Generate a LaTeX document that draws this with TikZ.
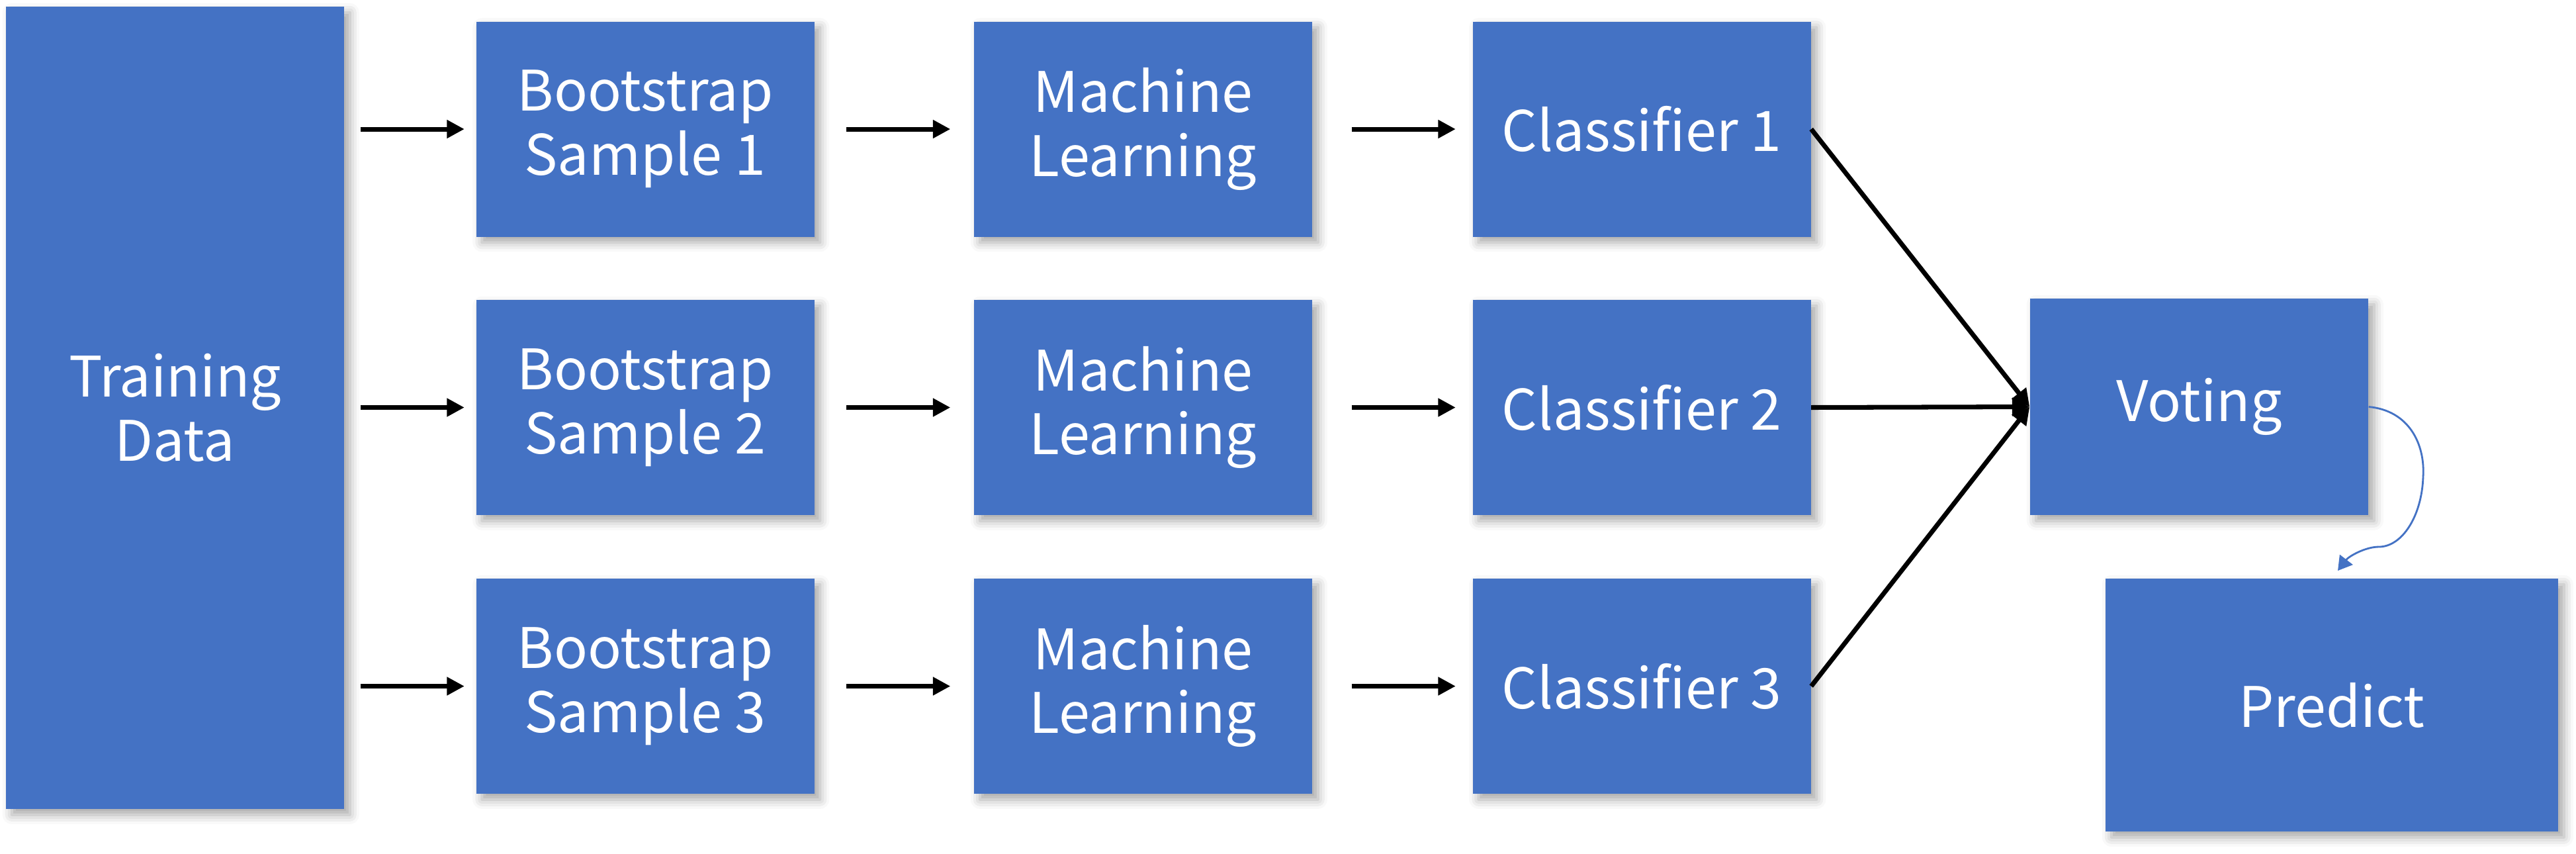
\documentclass[tikz,border=0pt]{standalone}
\usepackage{fontspec}
\setsansfont{Noto Sans CJK KR}
\usepackage{tikz}
\usetikzlibrary{arrows.meta,calc,positioning,shadows.blur}
\definecolor{boksblaa}{HTML}{4472C4}

\begin{document}
\begin{tikzpicture}[
    boks/.style={fill=boksblaa, text=white, align=center, inner sep=0pt,
      font=\sffamily\fontsize{24}{27.5}\selectfont,
      blur shadow={shadow xshift=2.5pt, shadow yshift=-2.5pt, shadow blur radius=4pt, shadow opacity=35}},
    lille/.style={boks, minimum width=5.11cm, minimum height=3.25cm},
    pil/.style={-{Triangle[length=7.5pt,width=7.5pt]}, line width=2pt}]
    \useasboundingbox (0,0) rectangle (38.93,-12.89);
    % Traeningsdata
    \node[boks, minimum width=5.11cm, minimum height=12.12cm] (td) at (2.645,-6.16) {Training\\Data};
    % Tre raekker: sample, laering, klassifikator
    \foreach \i/\y in {1/-1.95,2/-6.155,3/-10.365} {
      \node[lille] (bs\i) at (9.75,\y) {Bootstrap\\Sample \i};
      \node[lille] (ml\i) at (17.275,\y) {Machine\\Learning};
      \node[lille] (cl\i) at (24.81,\y) {Classifier \i};
      \draw[pil, shorten <=0.24cm, shorten >=0.17cm] (td.east |- bs\i.west) -- (bs\i.west);
      \draw[pil, shorten <=0.48cm, shorten >=0.35cm] (bs\i) -- (ml\i);
      \draw[pil, shorten <=0.59cm, shorten >=0.25cm] (ml\i) -- (cl\i);
    }
    % Afstemning og forudsigelse
    \node[lille, minimum height=3.27cm] (vote) at (33.235,-6.145) {Voting};
    \node[boks, minimum width=6.84cm, minimum height=3.82cm] (pred) at (35.24,-10.65) {Predict};
    \foreach \i in {1,2,3} {
      \draw[pil] (cl\i.east) -- (vote.west);
    }
    \coordinate (predtop) at (35.33,-8.62);
    \draw[boksblaa, line width=0.8pt, -{Triangle[length=6pt,width=7pt]}]
      (vote.east) .. controls (36.4,-6.2) and (36.65,-6.7) .. (36.62,-7.2)
      .. controls (36.6,-7.8) and (36.3,-8.26) .. (35.95,-8.26)
      .. controls (35.75,-8.26) and (35.5,-8.4) .. (predtop);
\end{tikzpicture}
\end{document}
